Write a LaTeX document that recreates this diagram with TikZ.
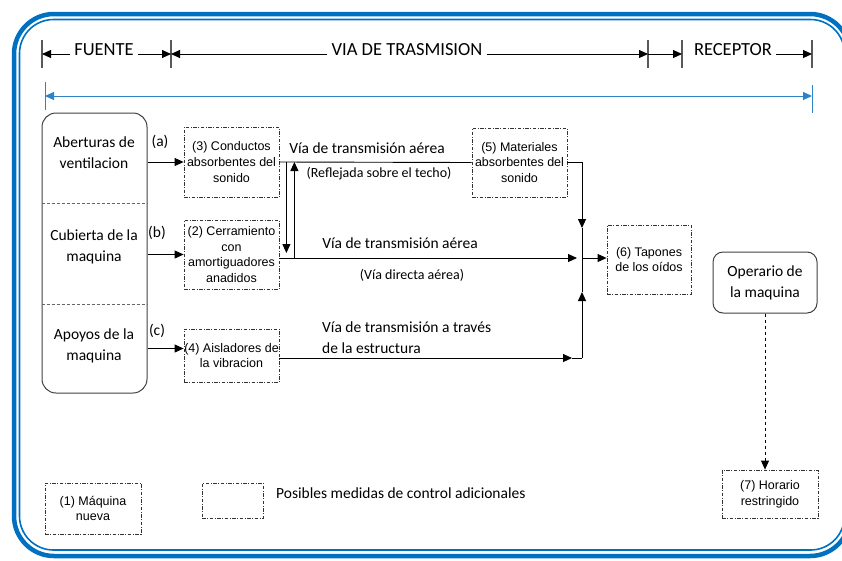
\documentclass[tikz,border=0pt]{standalone}
\usepackage{fontspec}
\setmainfont{Carlito}
\newfontfamily\arialfont{Liberation Sans}
\usetikzlibrary{arrows.meta}

\definecolor{frameblue}{RGB}{0,112,192}    %outer frame.
\definecolor{spanblue}{RGB}{45,130,200}    %long span arrow.

\newcommand\hdrfont{\fontsize{18.5}{22}\selectfont}
\newcommand\lblfont{\fontsize{15.5}{21}\selectfont}
\newcommand\notefont{\fontsize{14}{18}\selectfont}
\newcommand\boxfont{\arialfont\fontsize{12.5}{15.7}\selectfont}

\begin{document}
\begin{tikzpicture}[x=1pt,y=-1pt,
  >={Triangle[length=9pt,width=8pt]},
  line/.style={line width=0.9pt},
  tick/.style={line width=1.2pt,black!65},
  medida/.style={draw=black!80,line width=0.8pt,dash pattern=on 3.5pt off 1.5pt on 1pt off 1.5pt,
    align=center,font=\boxfont,inner sep=0pt},
  fuente/.style={align=center,font=\lblfont,inner sep=2pt},
  ruta/.style={font=\lblfont,inner sep=2pt},
  nota/.style={font=\notefont,inner sep=2pt},
  cabecera/.style={font=\hdrfont,inner sep=4pt}]

  \useasboundingbox (0,0) rectangle (842,560);

  % Frame (double blue line)
  \draw[frameblue,line width=4.5pt,rounded corners=40pt] (14,14) rectangle (850,556);
  \draw[frameblue,line width=1.6pt,rounded corners=34pt] (19.5,19.5) rectangle (844.5,550);

  % Define coordinates for the header ticks.
  \coordinate (t1) at (42,54);
  \coordinate (t2) at (171,54);
  \coordinate (t3) at (648,54);
  \coordinate (t4) at (682,54);
  \coordinate (t5) at (812,54);
  \coordinate (bl) at (45,96);     %left end of blue span.
  \coordinate (br) at (812,96);    %right end of blue span.

  % Header
  \node[cabecera] (fte) at (104,50) {FUENTE};
  \node[cabecera] (via) at (407,50) {VIA DE TRASMISION};
  \node[cabecera] (rec) at (733,50) {RECEPTOR};
  \foreach \t in {t1,t2,t3,t4,t5}
    \draw[tick] ([yshift=14pt]\t) -- ([yshift=-14pt]\t);
  \draw[line,->] (fte.west |- t1) -- (t1);
  \draw[line,->] (fte.east |- t2) -- (t2);
  \draw[line,->] (via.west |- t2) -- (t2);
  \draw[line,->] (via.east |- t3) -- (t3);
  \draw[line,->] (t3) -- (t4);
  \draw[line,->] (rec.east |- t5) -- (t5);

  % Blue span
  \draw[spanblue,line width=1pt,<->] (bl) -- (br);
  \draw[spanblue,line width=1pt] ([yshift=14pt]bl) -- ([yshift=-14pt]bl);
  \draw[spanblue,line width=1pt] ([yshift=11pt]br) -- ([yshift=-17pt]br);

  % Source column
  \node[draw=black!75,line width=1pt,rounded corners=14pt,minimum width=105pt,minimum height=280pt] (src) at (94.5,253) {};
  \draw[black!60,line width=0.8pt,dash pattern=on 3pt off 2pt] (src.west |- 0,203) -- (src.east |- 0,203);
  \draw[black!60,line width=0.8pt,dash pattern=on 3pt off 2pt] (src.west |- 0,304) -- (src.east |- 0,304);
  \node[fuente] (abert) at (94,153) {Aberturas de\\ventilacion};
  \node[fuente] (cubi) at (94,247) {Cubierta de la\\maquina};
  \node[fuente] (apoy) at (94,346) {Apoyos de la\\maquina};
  \node[fuente] (la) at (160,142) {(a)};
  \node[fuente] (lb) at (157,233) {(b)};
  \node[fuente] (lc) at (157,331) {(c)};

  % Control measures
  \node[medida,minimum width=95pt,minimum height=70pt] (b3) at (231.5,162) {(3) Conductos\\absorbentes del\\sonido};
  \node[medida,minimum width=95pt,minimum height=69pt] (b2) at (231.5,254.5) {(2) Cerramiento\\con\\amortiguadores\\anadidos};
  \node[medida,minimum width=95pt,minimum height=53pt] (b4) at (231.5,355.5) {(4) Aisladores de\\la vibracion};
  \node[medida,minimum width=95pt,minimum height=69pt] (b5) at (519.5,162.5) {(5) Materiales\\absorbentes del\\sonido};
  \node[medida,minimum width=84pt,minimum height=69pt] (b6) at (649,259.5) {(6) Tapones\\de los oídos};
  \node[medida,minimum width=96pt,minimum height=48pt] (b7) at (770,494) {(7) Horario\\restringido};
  \node[medida,minimum width=96pt,minimum height=51pt] (b1) at (93,508.5) {(1) Máquina\\nueva};
  \node[medida,minimum width=61pt,minimum height=35pt] (leg) at (232.5,500.5) {};
  \node[ruta,anchor=west] (legtxt) at (274,493) {Posibles medidas de control adicionales};

  % Receiver
  \node[draw=black!75,line width=1pt,rounded corners=10pt,minimum width=104pt,minimum height=61pt,
    align=center,font=\lblfont] (oper) at (765,282.5) {Operario de\\la maquina};
  \draw[line,dashed,->] (oper.south) -- (oper.south |- b7.north);

  % Source to measures
  \draw[line,->] (src.east |- b3.west) -- (b3.west);
  \draw[line,->] (src.east |- b2.west) -- (b2.west);
  \draw[line,->] ([yshift=7pt]b4.west -| src.east) -- ([yshift=7pt]b4.west);

  % Define coordinates of the junction.
  \coordinate (j) at (582,258);    %junction.
  \coordinate (jt) at (582,228);   %tip from above.
  \coordinate (jb) at (582,292);   %tip from below.
  \coordinate (jc) at (582,358);   %lower corner.

  % Transmission paths
  \draw[line] (b3.east) -- (b5.west);
  \draw[line,->] (b5.east) -| (jt);
  \draw[line] (jt) -- (j) -- (jb);
  \draw[line,->] (jc) -- (jb);
  \draw[line,->] (b4.east |- jc) -- ([xshift=-10pt]jc);
  \draw[line] ([xshift=-10pt]jc) -- (jc);
  \draw[line,->] (b2.east |- j) -- ([xshift=-5pt]j);
  \draw[line,->] (j) -- (b6.west |- j);
  \draw[line,->] ([xshift=7pt]b3.east) -- ++(0,91);
  \draw[line,->] ([xshift=15pt]b2.east |- j) -- ++(0,-96);

  % Path labels
  \node[ruta] (via1) at (367,148) {Vía de transmisión aérea};
  \node[nota] (refl) at (379,174) {(Reflejada sobre el techo)};
  \node[ruta] (via2) at (400,243) {Vía de transmisión aérea};
  \node[nota] (dir) at (412,275) {(Vía directa aérea)};
  \node[ruta,anchor=west,align=left] (estr) at (320,337.5) {Vía de transmisión a través\\de la estructura};

\end{tikzpicture}
\end{document}
